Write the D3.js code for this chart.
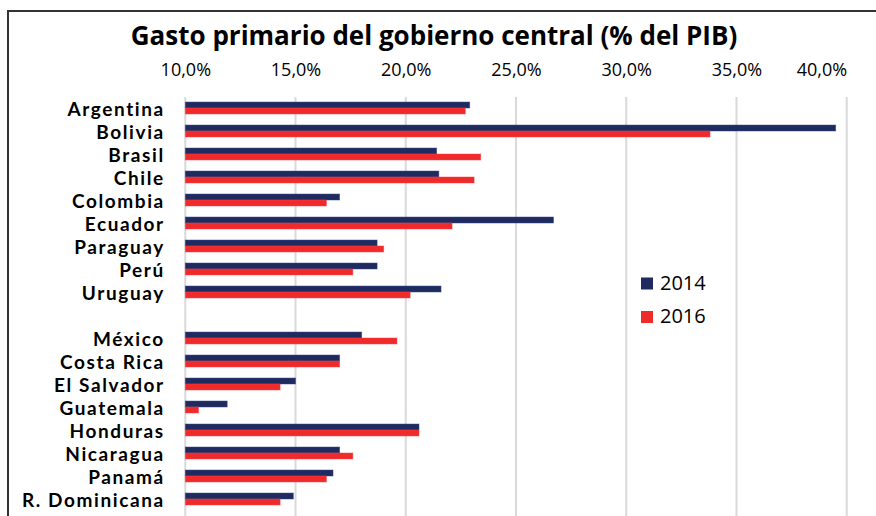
<!DOCTYPE html>
<html>
<head>
<meta charset="UTF-8">
<style>
  body { margin: 0; background: #fff; }
  svg { display: block; font-family: "Open Sans", sans-serif; }
</style>
</head>
<body>
<svg></svg>
<script src="https://cdn.jsdelivr.net/npm/d3@7"></script>
<script>

let width = 876,
    height = 516;

// data, % of GDP
let countries = ["Argentina", "Bolivia", "Brasil", "Chile", "Colombia", "Ecuador", "Paraguay", "Perú", "Uruguay",
                 " ",
                 "México", "Costa Rica", "El Salvador", "Guatemala", "Honduras", "Nicaragua", "Panamá", "R. Dominicana"];
let years = ["2014", "2016"];
let v2014 = [22.9, 39.5, 21.4, 21.5, 17.0, 26.7, 18.7, 18.7, 21.6,
             null,
             18.0, 17.0, 15.0, 11.9, 20.6, 17.0, 16.7, 14.9];
let v2016 = [22.7, 33.8, 23.4, 23.1, 16.4, 22.1, 19.0, 17.6, 20.2,
             null,
             19.6, 17.0, 14.3, 10.6, 20.6, 17.6, 16.4, 14.3];
let xTicks = [10, 15, 20, 25, 30, 35, 40];
let colors = ["#1f2b5e", "#ee2a2b"];

let svg = d3.select("svg")
    .attr("width", width)
    .attr("height", height);

svg.append("rect").attr("width", width).attr("height", height).attr("fill", "#fff");

let x = d3.scaleLinear()
    .domain([10, 40])
    .range([185.3, 846.7]);

let y = d3.scaleBand()
    .domain(countries)
    .range([96.5, 510.5])
    .paddingInner(0.48)
    .paddingOuter(0.24);

let ySub = d3.scaleBand()
    .domain(years)
    .range([0, y.bandwidth()]);

// frame (top and left only, the rest is cut off)
svg.append("path")
    .attr("d", "M8," + height + "V11H" + width)
    .attr("fill", "none")
    .attr("stroke", "#333")
    .attr("stroke-width", 2);

// title
svg.append("text")
    .attr("x", 434)
    .attr("y", 45)
    .attr("text-anchor", "middle")
    .style("font-size", "26px")
    .style("font-weight", "bold")
    .text("Gasto primario del gobierno central (% del PIB)");

// gridlines
svg.append("g")
    .selectAll("line")
    .data(xTicks)
    .enter()
    .append("line")
    .attr("x1", d => x(d))
    .attr("x2", d => x(d))
    .attr("y1", 97)
    .attr("y2", height)
    .attr("stroke", "#d9d9d9")
    .attr("stroke-width", 2);

// top axis
let xAxis = svg.append("g")
    .attr("transform", "translate(0,97)")
    .call(d3.axisTop(x)
        .tickValues(xTicks)
        .tickSize(0)
        .tickPadding(21)
        .tickFormat(d => d.toFixed(1).replace(".", ",") + "%"));
xAxis.select(".domain").remove();
xAxis.selectAll("text")
    .style("font-size", "18px")
    .style("font-family", "'Open Sans', sans-serif")
    .attr("fill", "#000");
xAxis.selectAll("text").filter(d => d == 40).attr("text-anchor", "end");

// left axis, Lato keeps the line box inside one row, spacing widens it
let yAxis = svg.append("g")
    .attr("transform", "translate(" + x(10) + ",0)")
    .call(d3.axisLeft(y).tickSize(0).tickPadding(20.5));
yAxis.select(".domain").remove();
yAxis.selectAll("text")
    .style("font-size", "19px")
    .style("font-weight", "bold")
    .style("font-family", "Lato, sans-serif")
    .style("letter-spacing", "1.6px")
    .style("font-variant-ligatures", "none")
    .attr("fill", "#000")
    .attr("dy", "0.4em");

// bars
let rows = countries.map((c, i) => ({ country: c, values: [v2014[i], v2016[i]] }))
    .filter(d => d.values[0] != null);

let group = svg.append("g")
    .selectAll("g")
    .data(rows)
    .enter()
    .append("g")
    .attr("transform", d => "translate(0," + y(d.country) + ")");

group.selectAll("rect")
    .data(d => d.values.map((v, i) => ({ year: years[i], value: v, i: i })))
    .enter()
    .append("rect")
    .attr("x", x(10))
    .attr("y", d => ySub(d.year))
    .attr("width", d => x(d.value) - x(10))
    .attr("height", ySub.bandwidth())
    .attr("fill", d => colors[d.i])
    .attr("stroke", d => d3.color(colors[d.i]).brighter(1.2))
    .attr("stroke-opacity", 0.6)
    .attr("stroke-width", 0.8);

// legend
let legend = svg.append("g")
    .selectAll("g")
    .data(years)
    .enter()
    .append("g")
    .attr("transform", (d, i) => "translate(641," + (277.5 + i * 33.5) + ")");

legend.append("rect")
    .attr("width", 12)
    .attr("height", 12)
    .attr("fill", (d, i) => colors[i]);

legend.append("text")
    .attr("x", 19)
    .attr("y", 12)
    .style("font-size", "20px")
    .text(d => d);

</script>
</body>
</html>
